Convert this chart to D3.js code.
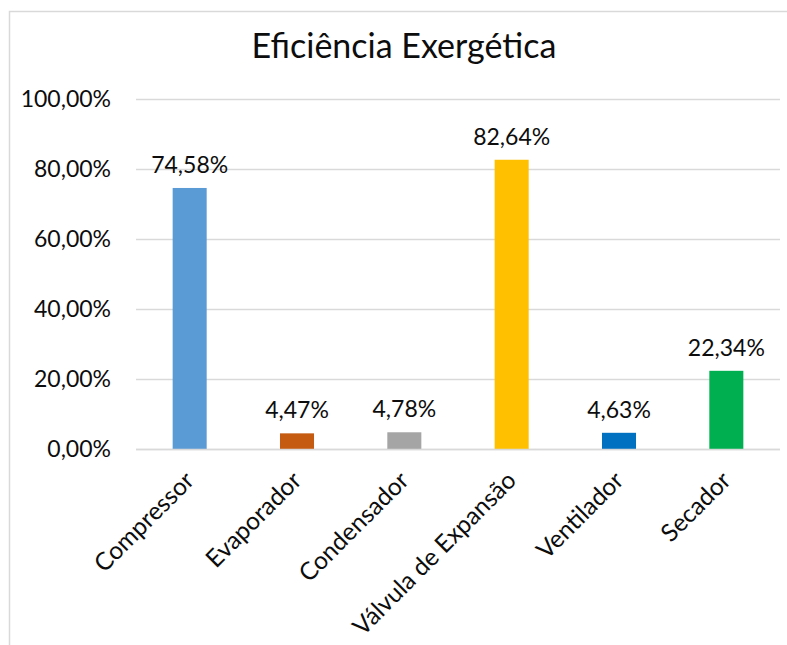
<!DOCTYPE html>
<html>
<head>
<meta charset="utf-8">
<script src="https://cdn.jsdelivr.net/npm/d3@7"></script>
<style>
  body { margin: 0; background: #fff; }
  text { font-family: Lato, 'Liberation Sans', sans-serif; fill: #0d0d0d; }
</style>
</head>
<body>
<div id="chart"></div>
<script>
// data
const categories = ['Compressor', 'Evaporador', 'Condensador', 'Válvula de Expansão', 'Ventilador', 'Secador']
const values = [0.7458, 0.0447, 0.0478, 0.8264, 0.0463, 0.2234]
const colors = ['#5B9BD5', '#C55A11', '#A5A5A5', '#FFC000', '#0070C0', '#00B050']
const yTicks = [0, 0.2, 0.4, 0.6, 0.8, 1]

const width = 787
const height = 645
const plot = { left: 136, right: 780, top: 99, bottom: 449 }

const pt = d3.formatLocale({ decimal: ',', thousands: '.', grouping: [3], currency: ['', ''] })
const fmt = pt.format('.2%')

const svg = d3
  .select('#chart')
  .append('svg')
  .attr('width', width)
  .attr('height', height)

// chart border (runs off the right and bottom edge)
svg
  .append('rect')
  .attr('x', 9.5)
  .attr('y', 11.5)
  .attr('width', 900)
  .attr('height', 800)
  .attr('fill', 'none')
  .attr('stroke', '#d9d9d9')
  .attr('stroke-width', 1.5)

const xPositionScale = d3
  .scaleBand()
  .domain(categories)
  .range([plot.left, plot.right])
  .paddingInner(0.683)
  .paddingOuter(0.683 / 2)

const yPositionScale = d3
  .scaleLinear()
  .domain([0, 1])
  .range([plot.bottom, plot.top])

// gridlines + y labels
const yAxis = d3
  .axisLeft(yPositionScale)
  .tickValues(yTicks)
  .tickSize(-(plot.right - plot.left))
  .tickPadding(25)
  .tickFormat(fmt)

svg
  .append('g')
  .attr('class', 'axis y-axis')
  .attr('transform', 'translate(' + plot.left + ',0)')
  .call(yAxis)
  .call(g => g.select('.domain').remove())
  .call(g => g.selectAll('.tick line').attr('stroke', '#d9d9d9').attr('stroke-width', 1.3))
  .call(g =>
    g.selectAll('.tick text')
      .attr('font-size', 23)
      .attr('fill', '#0d0d0d')
      .style('font-family', 'Lato, sans-serif')
  )

// bars
svg
  .selectAll('.bar')
  .data(values)
  .enter()
  .append('rect')
  .attr('class', 'bar')
  .attr('x', (d, i) => xPositionScale(categories[i]))
  .attr('y', d => yPositionScale(d))
  .attr('width', xPositionScale.bandwidth())
  .attr('height', d => yPositionScale(0) - yPositionScale(d))
  .attr('fill', (d, i) => colors[i])

// value labels
svg
  .selectAll('.value')
  .data(values)
  .enter()
  .append('text')
  .attr('class', 'value')
  .attr('x', (d, i) => xPositionScale(categories[i]) + xPositionScale.bandwidth() / 2)
  .attr('y', d => yPositionScale(d) - 15)
  .attr('text-anchor', 'middle')
  .attr('font-size', 23)
  .text(d => fmt(d))

// x axis line
svg
  .append('line')
  .attr('x1', plot.left)
  .attr('x2', plot.right)
  .attr('y1', plot.bottom + 0.5)
  .attr('y2', plot.bottom + 0.5)
  .attr('stroke', '#d9d9d9')
  .attr('stroke-width', 1.5)

// category labels, rotated
const xAxis = d3.axisBottom(xPositionScale).tickSize(0).tickPadding(0)
svg
  .append('g')
  .attr('class', 'axis x-axis')
  .attr('transform', 'translate(0,' + plot.bottom + ')')
  .call(xAxis)
  .call(g => g.select('.domain').remove())
  .call(g =>
    g.selectAll('.tick text')
      .attr('font-size', 24.5)
      .attr('fill', '#0d0d0d')
      .style('font-family', 'Lato, sans-serif')
      .attr('text-anchor', 'end')
      .attr('dy', 0)
      .attr('y', 0)
      .attr('transform', 'translate(6,33) rotate(-45)')
  )

// title
svg
  .append('text')
  .attr('x', 404)
  .attr('y', 58)
  .attr('text-anchor', 'middle')
  .attr('font-size', 34)
  .text('Eficiência Exergética')
</script>
</body>
</html>
